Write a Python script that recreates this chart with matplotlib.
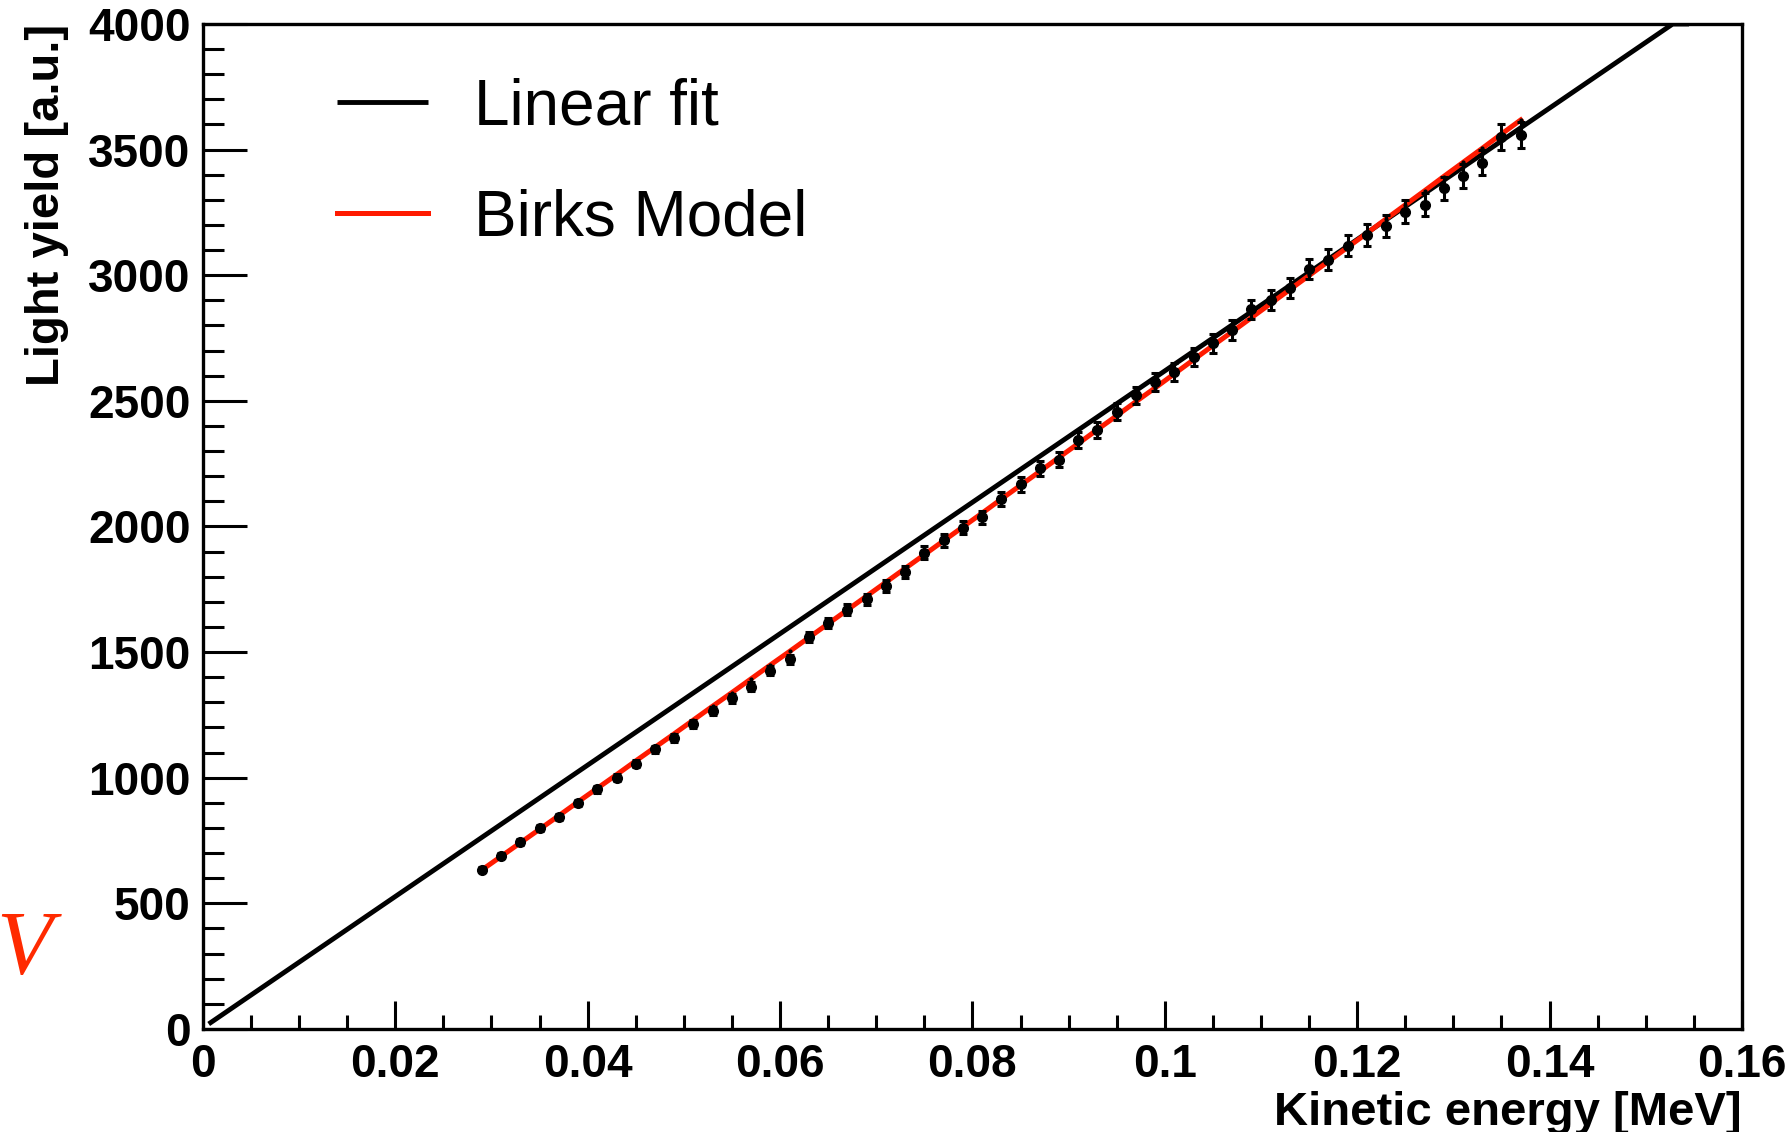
import matplotlib
matplotlib.use("Agg")
import matplotlib.pyplot as plt
from matplotlib.ticker import MultipleLocator, FuncFormatter

# ---------------- data ----------------
energy = [0.029, 0.031, 0.033, 0.035, 0.037, 0.039, 0.041, 0.043, 0.045, 0.047, 0.049,
          0.051, 0.053, 0.055, 0.057, 0.059, 0.061, 0.063, 0.065, 0.067, 0.069, 0.071,
          0.073, 0.075, 0.077, 0.079, 0.081, 0.083, 0.085, 0.087, 0.089, 0.091, 0.093,
          0.095, 0.097, 0.099, 0.101, 0.103, 0.105, 0.107, 0.109, 0.111, 0.113, 0.115,
          0.117, 0.119, 0.121, 0.123, 0.125, 0.127, 0.129, 0.131, 0.133, 0.135, 0.137]

light_yield = [633, 689, 745, 799, 845, 898, 954, 1000, 1055, 1113, 1158,
               1212, 1265, 1316, 1362, 1425, 1471, 1561, 1615, 1668, 1710, 1763,
               1818, 1896, 1946, 1995, 2036, 2108, 2168, 2232, 2265, 2344, 2384,
               2457, 2523, 2576, 2616, 2676, 2729, 2782, 2864, 2901, 2948, 3025,
               3061, 3118, 3160, 3196, 3253, 3280, 3346, 3395, 3448, 3550, 3558]

yield_err = [10, 10, 11, 11, 12, 12, 13, 13, 14, 14, 15,
             16, 16, 17, 18, 18, 19, 20, 21, 22, 22, 23,
             24, 25, 26, 26, 27, 28, 29, 30, 30, 31, 32,
             33, 34, 35, 35, 36, 37, 38, 39, 40, 40, 41,
             42, 43, 44, 45, 45, 46, 47, 48, 49, 50, 50]

birks_yield = [633, 687, 741, 795, 849, 904, 958, 1012, 1067, 1121, 1175,
               1230, 1285, 1339, 1394, 1449, 1503, 1558, 1613, 1668, 1723, 1778,
               1833, 1888, 1943, 1998, 2053, 2109, 2164, 2219, 2275, 2330, 2386,
               2441, 2497, 2552, 2608, 2664, 2720, 2775, 2831, 2887, 2943, 2999,
               3055, 3111, 3167, 3224, 3280, 3336, 3393, 3449, 3505, 3562, 3618]

linear_x = [0.0006, 0.1528, 0.1545]
linear_y = [20, 4000, 4000]

legend_labels = ["Linear fit", "Birks Model"]
x_label = "Kinetic energy [MeV]"
y_label = "Light yield [a.u.]"

# ---------------- figure ----------------
plt.rcParams['font.family'] = ['Liberation Sans', 'DejaVu Sans']
fig = plt.figure(figsize=(17.91, 11.32), dpi=100)
ax = fig.add_axes([0.1133, 0.0910, 0.8593, 0.8878])

l1, = ax.plot(linear_x, linear_y, color='black', lw=3.5, solid_capstyle='butt', zorder=2)
l2, = ax.plot(energy, birks_yield, color='#ff1a00', lw=3.6, zorder=3)
ax.errorbar(energy, light_yield, yerr=yield_err, fmt='o', color='black', ms=7,
            elinewidth=2.2, capsize=2.6, capthick=2.2, zorder=4)
ax.plot(energy, birks_yield, ls='none', marker='o', ms=2.0, color='black', zorder=5)

ax.set_xlim(0, 0.16)
ax.set_ylim(0, 4000)
ax.xaxis.set_major_locator(MultipleLocator(0.02))
ax.xaxis.set_minor_locator(MultipleLocator(0.005))
ax.yaxis.set_major_locator(MultipleLocator(500))
ax.yaxis.set_minor_locator(MultipleLocator(100))

def xfmt(v, pos):
    s = ('%.2f' % v).rstrip('0').rstrip('.')
    return s if s else '0'
ax.xaxis.set_major_formatter(FuncFormatter(xfmt))
ax.yaxis.set_major_formatter(FuncFormatter(lambda v, p: '%d' % round(v)))

for sp in ax.spines.values():
    sp.set_linewidth(2.4)
ax.tick_params(axis='x', which='major', direction='in', length=20, width=2.2,
               labelsize=33, pad=10)
ax.tick_params(axis='x', which='minor', direction='in', length=10, width=2.2)
ax.tick_params(axis='y', which='major', direction='in', length=32, width=2.2,
               labelsize=33, pad=9)
ax.tick_params(axis='y', which='minor', direction='in', length=15, width=2.2)
for lab in ax.get_xticklabels() + ax.get_yticklabels():
    lab.set_fontweight('bold')

ax.set_xlabel(x_label, fontsize=34, fontweight='bold', loc='right')
ax.xaxis.set_label_coords(1.0, -0.062)
ax.set_ylabel(y_label, fontsize=34, fontweight='bold', loc='top')
ax.yaxis.set_label_coords(-0.0870, 1.0)

ax.legend([l1, l2], legend_labels, loc='upper left', bbox_to_anchor=(0.0871, 0.947),
          frameon=False, fontsize=46, handlelength=1.42, handletextpad=0.72,
          labelspacing=0.80, borderpad=0, borderaxespad=0)

fig.text(-0.002, 0.140, "V", fontsize=66, family='Liberation Serif', style='italic',
         color='#ff2a00', va='baseline', ha='left')

fig.savefig("out.png", dpi=100)
